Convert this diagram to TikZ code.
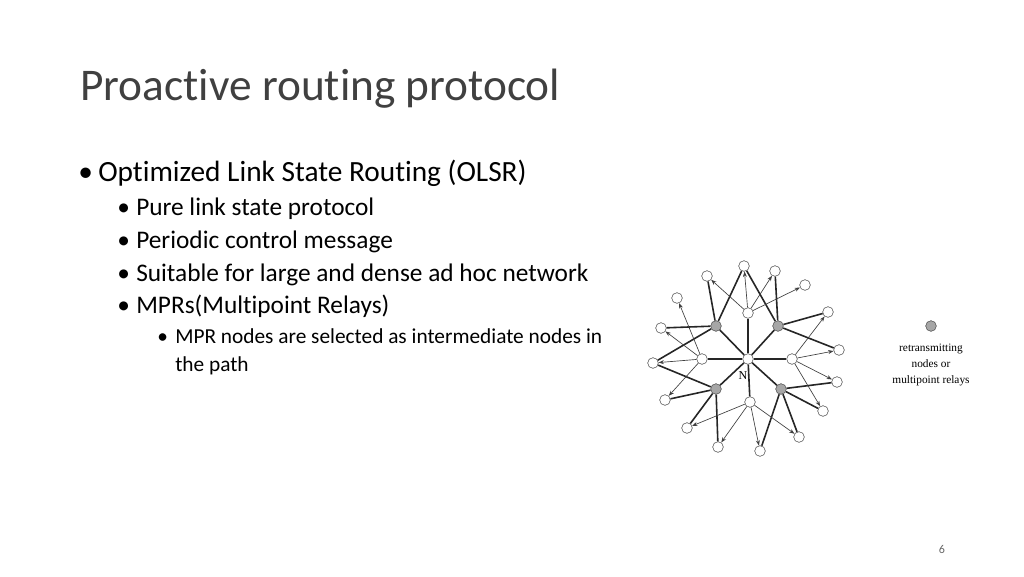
\documentclass[tikz,border=0pt]{standalone}
\usepackage{fontspec}
\setmainfont{Carlito}[Ligatures=NoCommon]
\newfontfamily\timesfont{Liberation Serif}
\usetikzlibrary{arrows.meta}
\begin{document}
\begin{tikzpicture}[x=.75pt,y=-.75pt,
  wnode/.style={circle,draw=black!70,fill=white,inner sep=0pt,minimum size=8pt},
  gnode/.style={circle,draw=black!70,fill=black!35,inner sep=0pt,minimum size=8pt},
  link/.style={line width=1.2pt,black!85},
  relay/.style={-{Stealth[length=4pt,width=3pt]},black!75,line width=.5pt},
  bul/.style={anchor=base west,inner sep=0pt}]
\useasboundingbox (0,0) rectangle (1024,576);
\node[anchor=base west,inner sep=0pt,font=\fontsize{34}{40}\selectfont,text=black!75] (title) at (80,100) {Proactive routing protocol};
% bullets
\node[bul,font=\fontsize{22}{26}\selectfont] (d1) at (78,181) {\textbullet};
\node[bul,font=\fontsize{22}{26}\selectfont] (b1) at (98,181) {Optimized Link State Routing (OLSR)};
\foreach \y/\t [count=\i from 2] in {215/Pure link state protocol,248/Periodic control message,
  281/Suitable for large and dense ad hoc network,313/MPRs(Multipoint Relays)}{
  \node[bul,font=\fontsize{19}{22}\selectfont] (d\i) at (117,\y) {\textbullet};
  \node[bul,font=\fontsize{19}{22}\selectfont] (b\i) at (136,\y) {\t};
}
\node[bul,font=\fontsize{16}{19}\selectfont] (d6) at (157,343) {\textbullet};
\node[bul,font=\fontsize{16}{19}\selectfont] (b6) at (175,343) {MPR nodes are selected as intermediate nodes in};
\node[bul,font=\fontsize{16}{19}\selectfont] (b7) at (175,371) {the path};
% network
\node[wnode] (N) at (748,359) {};
\node[font=\timesfont\small] (Nl) at (743,376) {N};
\node[gnode] (g1) at (716,326) {};
\node[gnode] (g2) at (778,326) {};
\node[gnode] (g3) at (716,389) {};
\node[gnode] (g4) at (781,389) {};
\node[wnode] (u) at (748,313) {};
\node[wnode] (l) at (702,359) {};
\node[wnode] (r) at (792,359) {};
\node[wnode] (d) at (750,402) {};
\foreach \n/\p in {1/{744,266},2/{707,276},3/{775,271},4/{805,285},5/{677,298},
  6/{828,312},7/{661,328},8/{839,350},9/{653,363},10/{837,382},11/{665,400},
  12/{823,411},13/{687,428},14/{799,437},15/{718,447},16/{760,451}}
  \node[wnode] (o\n) at (\p) {};
\foreach \a in {g1,g2,g3,g4,u,l,r,d} \draw[link] (N) -- (\a);
\foreach \a/\b in {g1/o2,g1/o1,g1/o7,g1/o9,g2/o1,g2/o3,g2/o6,g2/o8,
  g3/o9,g3/o11,g3/o13,g3/o15,g4/o10,g4/o14,g4/o16,g4/o12}
  \draw[link] (\a) -- (\b);
\foreach \a/\b in {u/o2,u/o1,u/o3,u/o4,l/o5,l/o7,l/o9,l/o11,
  r/o6,r/o8,r/o10,r/o12,d/o13,d/o15,d/o16,d/o14}
  \draw[relay] (\a) -- (\b);
% legend
\node[gnode] (key) at (931,326) {};
\node[font=\timesfont\fontsize{8.5}{12}\selectfont,align=center,anchor=north] (keyl) at (931,339) {retransmitting\\nodes or\\multipoint relays};
\node[text=black!60,font=\fontsize{9}{10}\selectfont] (pg) at (942,549) {6};
\end{tikzpicture}
\end{document}
